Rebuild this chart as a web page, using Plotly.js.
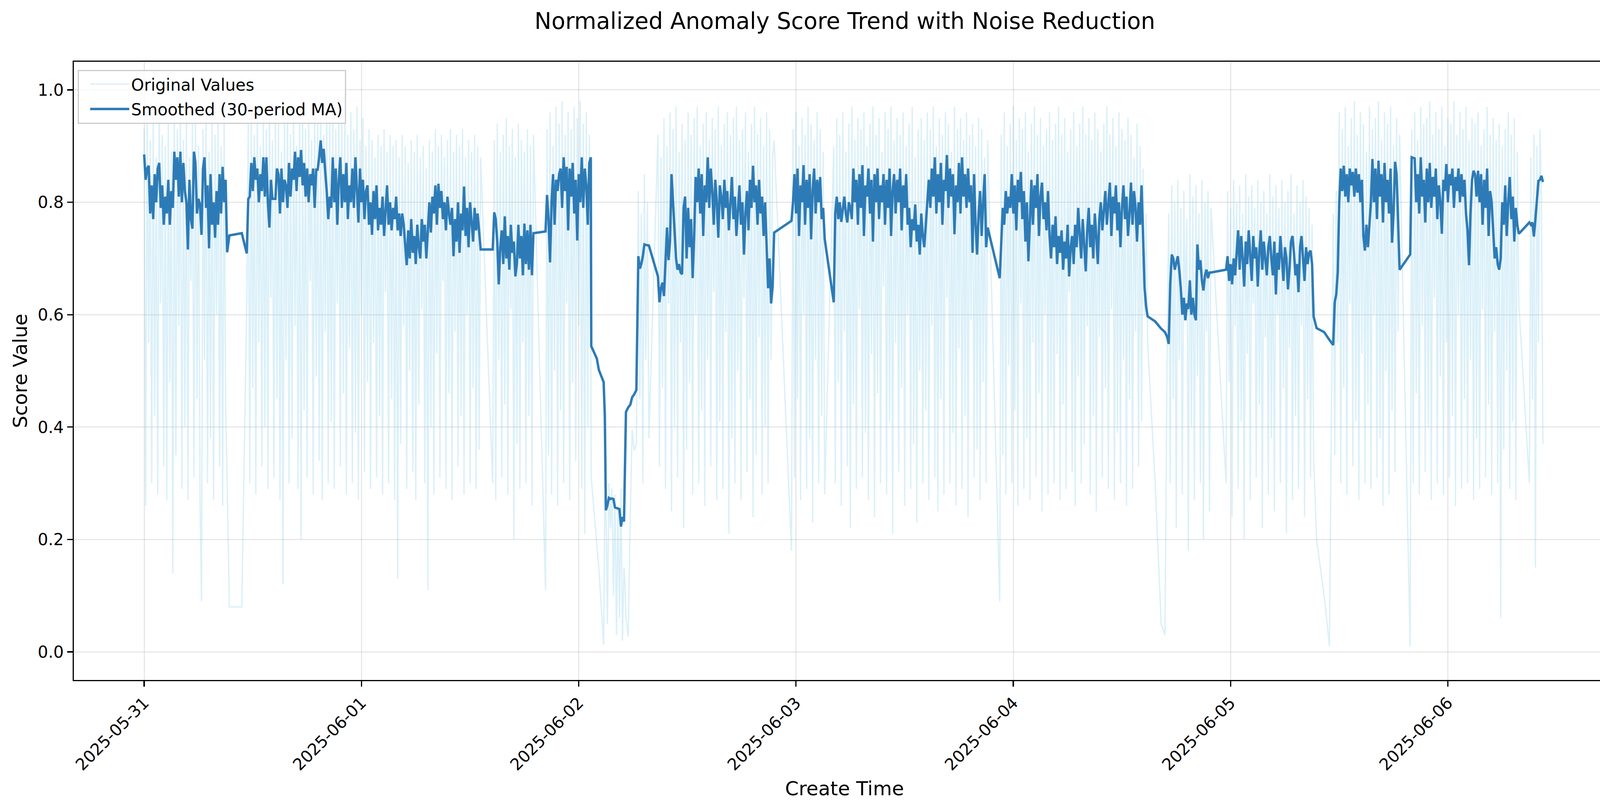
<!DOCTYPE html>
<html>
<head>
<meta charset="utf-8">
<script src="https://cdn.plot.ly/plotly-3.0.1.min.js"></script>
<style>
  html, body { margin: 0; padding: 0; background: #fff; }
  #chart { width: 4164px; height: 2065px; }
</style>
</head>
<body>
<div id="chart"></div>
<script>
// Sampling blocks: [start minute after 2025-05-31 00:00, number of 10-minute samples]
const segments = [
  [0, 56], [565, 1], [647, 1], [680, 156], [2310, 28], [2660, 31],
  [2963, 1], [3000, 1], [3013, 1], [3045, 1], [3053, 1], [3060, 13],
  [3187, 1], [3193, 1], [3208, 1], [3222, 1], [3234, 1], [3247, 1], [3262, 1],
  [3275, 8], [3405, 78], [4290, 23], [4570, 103], [5670, 99],
  [6700, 1], [6740, 1], [6765, 1], [6780, 30], [7170, 59],
  [7770, 1], [7820, 1], [7855, 1], [7880, 45], [8390, 73], [9180, 10]
];

// Raw score values
const originalValues = [
  // 05-31 early
  0.93, 0.26, 0.96, 0.55, 0.91, 0.30, 0.95, 0.42, 0.88, 0.28,
  0.97, 0.62, 0.92, 0.33, 0.90, 0.27, 0.94, 0.48, 0.89, 0.14,
  0.96, 0.35, 0.93, 0.58, 0.97, 0.29, 0.91, 0.40, 0.95, 0.27,
  0.88, 0.66, 0.94, 0.31, 0.96, 0.45, 0.90, 0.28, 0.09, 0.93,
  0.52, 0.95, 0.30, 0.89, 0.38, 0.96, 0.27, 0.92, 0.60, 0.94,
  0.33, 0.90, 0.26, 0.95, 0.44, 0.30,
  0.08, 0.08,
  // 05-31 late to 06-01 midday
  0.62, 0.94, 0.30, 0.96, 0.47, 0.92, 0.28, 0.97, 0.55, 0.90,
  0.33, 0.95, 0.40, 0.93, 0.29, 0.98, 0.63, 0.91, 0.31, 0.96,
  0.45, 0.94, 0.27, 0.89, 0.12, 0.95, 0.52, 0.97, 0.30, 0.92,
  0.38, 0.96, 0.58, 0.90, 0.29, 0.94, 0.20, 0.97, 0.43, 0.93,
  0.31, 0.95, 0.66, 0.91, 0.28, 0.98, 0.49, 0.94, 0.34, 0.96,
  0.27, 0.92, 0.57, 0.99, 0.30, 0.95, 0.41, 0.97, 0.29, 0.93,
  0.62, 0.98, 0.33, 0.94, 0.46, 0.99, 0.28, 0.92, 0.54, 0.96,
  0.30, 0.93, 0.39, 0.97, 0.27, 0.91, 0.60, 0.95, 0.32, 0.90,
  0.48, 0.93, 0.29, 0.91, 0.55, 0.88, 0.31, 0.92, 0.42, 0.90,
  0.28, 0.93, 0.64, 0.89, 0.30, 0.92, 0.45, 0.90, 0.27, 0.91,
  0.13, 0.88, 0.37, 0.92, 0.58, 0.90, 0.29, 0.87, 0.50, 0.91,
  0.32, 0.89, 0.27, 0.92, 0.44, 0.88, 0.61, 0.90, 0.30, 0.86,
  0.11, 0.91, 0.40, 0.89, 0.28, 0.93, 0.53, 0.90, 0.31, 0.92,
  0.66, 0.88, 0.29, 0.91, 0.46, 0.93, 0.27, 0.89, 0.57, 0.92,
  0.33, 0.90, 0.42, 0.93, 0.28, 0.88, 0.60, 0.91, 0.30, 0.89,
  0.47, 0.92, 0.29, 0.90, 0.36, 0.88,
  // 06-01 afternoon
  0.30, 0.91, 0.27, 0.94, 0.52, 0.89, 0.31, 0.92, 0.44, 0.95,
  0.28, 0.90, 0.61, 0.93, 0.20, 0.88, 0.37, 0.94, 0.29, 0.91,
  0.55, 0.89, 0.30, 0.93, 0.42, 0.90, 0.26, 0.92,
  // 06-01 evening
  0.11, 0.93, 0.35, 0.96, 0.28, 0.90, 0.50, 0.97, 0.26, 0.94,
  0.43, 0.98, 0.30, 0.92, 0.62, 0.96, 0.27, 0.93, 0.48, 0.97,
  0.34, 0.95, 0.58, 0.98, 0.29, 0.94, 0.21, 0.96, 0.40, 0.92, 0.55,
  // 06-02 dip
  0.31, 0.19, 0.15, 0.013, 0.28,
  0.27, 0.05, 0.30, 0.22, 0.29, 0.10, 0.28, 0.03, 0.26, 0.06, 0.29, 0.02, 0.15,
  0.12, 0.06, 0.027, 0.25, 0.395, 0.358, 0.37,
  0.82, 0.45, 0.78, 0.30, 0.85, 0.52, 0.80, 0.38,
  // 06-02 rest
  0.92, 0.33, 0.88, 0.47, 0.95, 0.29, 0.90, 0.62, 0.96, 0.25,
  0.93, 0.40, 0.97, 0.31, 0.89, 0.55, 0.94, 0.22, 0.91, 0.36,
  0.96, 0.48, 0.92, 0.28, 0.95, 0.60, 0.97, 0.30, 0.90, 0.43,
  0.94, 0.26, 0.96, 0.52, 0.91, 0.33, 0.95, 0.64, 0.93, 0.27,
  0.97, 0.41, 0.90, 0.29, 0.94, 0.57, 0.96, 0.21, 0.92, 0.38,
  0.95, 0.30, 0.97, 0.50, 0.91, 0.27, 0.93, 0.63, 0.96, 0.32,
  0.89, 0.45, 0.94, 0.24, 0.97, 0.35, 0.92, 0.56, 0.95, 0.28,
  0.90, 0.40, 0.96, 0.30, 0.93, 0.52, 0.88, 0.91,
  // 06-02 late to 06-03 early
  0.18, 0.93, 0.31, 0.96, 0.45, 0.90, 0.27, 0.95, 0.60, 0.92,
  0.29, 0.97, 0.38, 0.94, 0.23, 0.91, 0.52, 0.96, 0.30, 0.93,
  0.42, 0.89, 0.28,
  // 06-03
  0.90, 0.30, 0.95, 0.48, 0.92, 0.26, 0.96, 0.57, 0.89, 0.33,
  0.94, 0.22, 0.97, 0.44, 0.91, 0.29, 0.95, 0.61, 0.93, 0.31,
  0.96, 0.39, 0.90, 0.27, 0.94, 0.53, 0.97, 0.24, 0.92, 0.46,
  0.95, 0.30, 0.89, 0.65, 0.96, 0.28, 0.93, 0.41, 0.97, 0.21,
  0.91, 0.55, 0.95, 0.32, 0.92, 0.47, 0.96, 0.26, 0.90, 0.60,
  0.94, 0.29, 0.97, 0.37, 0.88, 0.23, 0.93, 0.50, 0.95, 0.30,
  0.91, 0.43, 0.96, 0.27, 0.93, 0.58, 0.97, 0.31, 0.90, 0.25,
  0.95, 0.45, 0.92, 0.28, 0.96, 0.63, 0.94, 0.30, 0.89, 0.39,
  0.97, 0.26, 0.93, 0.54, 0.95, 0.29, 0.91, 0.42, 0.96, 0.24,
  0.92, 0.59, 0.94, 0.31, 0.90, 0.36, 0.95, 0.27, 0.93, 0.48,
  0.88, 0.30, 0.91,
  // 06-03 late to 06-04 afternoon
  0.09, 0.92, 0.35, 0.96, 0.28, 0.90, 0.51, 0.94, 0.30, 0.97,
  0.43, 0.91, 0.26, 0.95, 0.62, 0.93, 0.29, 0.96, 0.38, 0.89,
  0.27, 0.94, 0.55, 0.97, 0.31, 0.92, 0.46, 0.95, 0.25, 0.90,
  0.60, 0.93, 0.28, 0.96, 0.40, 0.91, 0.30, 0.94, 0.53, 0.97,
  0.27, 0.92, 0.44, 0.95, 0.29, 0.89, 0.64, 0.93, 0.32, 0.96,
  0.26, 0.90, 0.49, 0.94, 0.30, 0.97, 0.37, 0.92, 0.58, 0.95,
  0.28, 0.91, 0.42, 0.96, 0.25, 0.93, 0.56, 0.89, 0.31, 0.94,
  0.47, 0.97, 0.29, 0.92, 0.61, 0.95, 0.27, 0.90, 0.39, 0.96,
  0.30, 0.93, 0.52, 0.91, 0.26, 0.95, 0.45, 0.92, 0.29, 0.88,
  0.57, 0.94, 0.33, 0.90, 0.41, 0.86, 0.60, 0.78, 0.55,
  0.30, 0.05, 0.03,
  // 06-04 evening to 06-05
  0.55, 0.78, 0.30, 0.83, 0.45, 0.80, 0.22, 0.84, 0.52, 0.79,
  0.28, 0.82, 0.60, 0.77, 0.18, 0.85, 0.40, 0.81, 0.27, 0.83,
  0.49, 0.78, 0.30, 0.84, 0.20, 0.80, 0.57, 0.82, 0.25, 0.79,
  0.30, 0.82, 0.48, 0.79, 0.24, 0.84, 0.58, 0.80, 0.29, 0.83,
  0.41, 0.78, 0.20, 0.85, 0.53, 0.81, 0.27, 0.83, 0.62, 0.79,
  0.31, 0.84, 0.44, 0.80, 0.22, 0.82, 0.56, 0.78, 0.28, 0.85,
  0.38, 0.81, 0.25, 0.83, 0.60, 0.79, 0.30, 0.84, 0.47, 0.80,
  0.21, 0.82, 0.54, 0.85, 0.27, 0.78, 0.42, 0.83, 0.29, 0.80,
  0.58, 0.84, 0.24, 0.81, 0.45, 0.79, 0.31, 0.76, 0.35,
  0.20, 0.10, 0.01,
  // 06-05 late to 06-06
  0.78, 0.35, 0.82, 0.55, 0.96, 0.30, 0.93, 0.47, 0.97, 0.28,
  0.90, 0.62, 0.95, 0.33, 0.98, 0.41, 0.92, 0.27, 0.96, 0.53,
  0.94, 0.30, 0.89, 0.44, 0.97, 0.29, 0.93, 0.60, 0.95, 0.31,
  0.98, 0.38, 0.91, 0.26, 0.96, 0.50, 0.94, 0.28, 0.97, 0.43,
  0.90, 0.32, 0.95, 0.57, 0.92,
  0.01, 0.93, 0.30, 0.96, 0.46, 0.91, 0.28, 0.97, 0.58, 0.94,
  0.32, 0.95, 0.40, 0.98, 0.27, 0.92, 0.63, 0.96, 0.30, 0.93,
  0.49, 0.97, 0.28, 0.90, 0.55, 0.95, 0.31, 0.94, 0.42, 0.98,
  0.26, 0.92, 0.60, 0.96, 0.29, 0.93, 0.45, 0.97, 0.30, 0.91,
  0.52, 0.95, 0.27, 0.94, 0.38, 0.96, 0.29, 0.90, 0.61, 0.93,
  0.31, 0.97, 0.44, 0.92, 0.28, 0.95, 0.57, 0.91, 0.30, 0.94,
  0.06, 0.90, 0.36, 0.93, 0.50, 0.96, 0.29, 0.92, 0.41, 0.95,
  0.27, 0.89, 0.62,
  0.30, 0.88, 0.45, 0.92, 0.15, 0.90, 0.55, 0.93, 0.80, 0.37
];

// 30-period moving average
const smoothedValues = [
  0.885, 0.84, 0.86, 0.865, 0.78, 0.83, 0.77, 0.85, 0.80, 0.86,
  0.87, 0.79, 0.83, 0.76, 0.81, 0.78, 0.84, 0.76, 0.82, 0.79,
  0.89, 0.84, 0.88, 0.81, 0.89, 0.80, 0.87, 0.82,
  0.80, 0.716, 0.84, 0.77, 0.753, 0.89, 0.87, 0.78,
  0.806, 0.796,
  0.742, 0.86, 0.88, 0.79, 0.83, 0.718, 0.85, 0.76, 0.80,
  0.737, 0.82, 0.76, 0.85, 0.78, 0.863, 0.80, 0.84, 0.711,
  0.741, 0.745,
  0.709, 0.806, 0.81, 0.87, 0.82, 0.88, 0.84, 0.86, 0.80, 0.85, 0.82, 0.88, 0.81,
  0.88, 0.80, 0.755, 0.84, 0.806, 0.806, 0.806,
  0.86, 0.85, 0.78, 0.86, 0.80, 0.84, 0.83, 0.79,
  0.87, 0.81, 0.86, 0.84, 0.89, 0.82, 0.88, 0.845, 0.893, 0.83,
  0.87, 0.81, 0.86, 0.80, 0.85, 0.83, 0.86,
  0.79, 0.858, 0.858,
  0.88, 0.91, 0.87, 0.895, 0.855,
  0.82, 0.77, 0.81, 0.79,
  0.88, 0.80, 0.86, 0.76, 0.84, 0.88, 0.79, 0.85, 0.80, 0.87, 0.77, 0.83, 0.80,
  0.86, 0.79, 0.88, 0.81, 0.764, 0.86, 0.80, 0.84, 0.77, 0.82,
  0.83, 0.76, 0.80, 0.742, 0.82, 0.77, 0.83, 0.75, 0.79, 0.76, 0.81, 0.74,
  0.79, 0.83, 0.76, 0.80, 0.75, 0.79, 0.77, 0.81, 0.75, 0.78, 0.74, 0.78, 0.76,
  0.72, 0.688, 0.75, 0.70, 0.77, 0.71, 0.74, 0.69, 0.76, 0.72,
  0.70, 0.77, 0.73, 0.76, 0.70, 0.75,
  0.80, 0.746, 0.81, 0.78, 0.83, 0.76, 0.833, 0.79, 0.82, 0.77,
  0.80, 0.75, 0.81, 0.78, 0.76,
  0.79, 0.704, 0.77, 0.73, 0.80, 0.71, 0.78, 0.75, 0.828, 0.74,
  0.79, 0.72, 0.80, 0.76, 0.73, 0.79, 0.75, 0.78, 0.74, 0.716,
  0.716, 0.782, 0.77, 0.73, 0.654, 0.72, 0.75, 0.69, 0.775, 0.70,
  0.74, 0.68, 0.76, 0.71, 0.73, 0.668, 0.69,
  0.76, 0.70, 0.74, 0.67, 0.762, 0.69, 0.75, 0.68, 0.76, 0.67, 0.745,
  0.748, 0.813, 0.77, 0.693, 0.80, 0.85, 0.76, 0.84, 0.82, 0.85,
  0.86, 0.79, 0.88, 0.82, 0.863, 0.75, 0.86, 0.81, 0.87, 0.78,
  0.84, 0.732, 0.85, 0.80, 0.88, 0.79, 0.86, 0.83, 0.76, 0.87, 0.88,
  0.544, 0.522, 0.502, 0.48, 0.42,
  0.252, 0.261, 0.274, 0.272, 0.273, 0.272, 0.257, 0.256, 0.254, 0.254, 0.223, 0.24, 0.232,
  0.33, 0.427, 0.435, 0.44, 0.453, 0.458, 0.466,
  0.704, 0.682, 0.69, 0.704, 0.725, 0.724, 0.724, 0.723,
  0.668, 0.622, 0.647, 0.657, 0.633, 0.697, 0.755, 0.697, 0.73, 0.85,
  0.80, 0.74, 0.70, 0.68, 0.69, 0.675, 0.672, 0.79, 0.81, 0.70,
  0.79, 0.72, 0.77, 0.665, 0.74, 0.845,
  0.80, 0.86, 0.78, 0.85, 0.74, 0.83, 0.80, 0.88, 0.79, 0.86,
  0.82, 0.76, 0.84, 0.80, 0.737, 0.83, 0.81,
  0.77, 0.84, 0.79, 0.82, 0.75, 0.80, 0.845, 0.77, 0.81, 0.74,
  0.79, 0.83, 0.76, 0.80, 0.707, 0.78, 0.82, 0.75, 0.84, 0.79,
  0.865, 0.80,
  0.83, 0.76, 0.84, 0.78, 0.81, 0.74, 0.80, 0.72, 0.647, 0.70, 0.62, 0.65, 0.746,
  0.767, 0.80, 0.85, 0.78, 0.86, 0.74, 0.83, 0.80, 0.866, 0.76,
  0.84, 0.79, 0.85, 0.734, 0.82, 0.86, 0.78, 0.84, 0.80, 0.845,
  0.77, 0.79, 0.735,
  0.622,
  0.78, 0.81, 0.77, 0.80, 0.765, 0.79, 0.81, 0.78, 0.764, 0.80, 0.79, 0.77,
  0.86, 0.80, 0.84, 0.76, 0.85, 0.79, 0.866, 0.74, 0.83, 0.81,
  0.86, 0.78, 0.84, 0.73, 0.85, 0.80, 0.86, 0.77, 0.83, 0.80,
  0.85, 0.76, 0.84, 0.79, 0.86, 0.74, 0.82, 0.85, 0.78, 0.84,
  0.80, 0.86, 0.75, 0.83, 0.79, 0.85,
  0.76, 0.79, 0.72, 0.77, 0.75, 0.796, 0.73, 0.76, 0.707, 0.78, 0.74, 0.72, 0.77,
  0.80, 0.84, 0.79, 0.86, 0.81, 0.88, 0.78, 0.85, 0.80, 0.87,
  0.76, 0.84, 0.82, 0.884, 0.79, 0.86, 0.81, 0.85, 0.743, 0.83,
  0.80, 0.87, 0.78, 0.88, 0.81, 0.85, 0.79, 0.86, 0.80,
  0.83, 0.71, 0.85, 0.76, 0.707, 0.78, 0.82, 0.74, 0.80, 0.85, 0.72, 0.755,
  0.665,
  0.74, 0.79, 0.76, 0.82, 0.78, 0.81, 0.79,
  0.85, 0.78, 0.83, 0.75, 0.84, 0.80, 0.854, 0.77, 0.82, 0.73,
  0.80, 0.695, 0.78, 0.84, 0.76, 0.83, 0.79, 0.85, 0.74, 0.81,
  0.835, 0.77, 0.80, 0.75, 0.82,
  0.74, 0.70, 0.76, 0.72, 0.775, 0.69, 0.74, 0.71, 0.75, 0.68,
  0.73, 0.70, 0.76, 0.668, 0.72, 0.74, 0.69,
  0.76, 0.72, 0.79, 0.74, 0.70, 0.77, 0.73, 0.677, 0.75, 0.79,
  0.72, 0.76, 0.70, 0.78, 0.74, 0.69, 0.77, 0.80, 0.75, 0.78,
  0.82, 0.76, 0.80, 0.835, 0.74, 0.81, 0.78, 0.83, 0.75, 0.80,
  0.72, 0.79, 0.83, 0.77, 0.81, 0.74, 0.78, 0.835, 0.76, 0.82,
  0.79, 0.73, 0.80, 0.76, 0.83, 0.75,
  0.647, 0.615, 0.597,
  0.588, 0.575, 0.569,
  0.56, 0.548, 0.654, 0.707, 0.70, 0.68, 0.69, 0.704, 0.679,
  0.647, 0.60, 0.63, 0.59, 0.62, 0.61, 0.661, 0.60, 0.63, 0.60, 0.59,
  0.725, 0.68, 0.697, 0.66, 0.643, 0.67, 0.68, 0.665, 0.675, 0.675,
  0.68, 0.704, 0.66, 0.69, 0.654, 0.70, 0.67,
  0.72, 0.75, 0.68, 0.74, 0.70, 0.65, 0.73, 0.69, 0.75, 0.71,
  0.66, 0.74, 0.70, 0.72, 0.65, 0.71, 0.75, 0.68, 0.73, 0.70,
  0.67, 0.72,
  0.74, 0.70, 0.67, 0.73, 0.636, 0.71, 0.68, 0.74, 0.69, 0.66,
  0.72, 0.70, 0.645, 0.68, 0.73, 0.74, 0.71, 0.67, 0.69, 0.64,
  0.72, 0.74, 0.70, 0.66, 0.72, 0.69, 0.71, 0.714, 0.69,
  0.597,
  0.576, 0.569, 0.555,
  0.546, 0.622, 0.636, 0.675,
  0.80, 0.86, 0.82, 0.865, 0.81, 0.85, 0.80, 0.86, 0.83, 0.854,
  0.81, 0.86, 0.817, 0.85, 0.80, 0.84,
  0.74, 0.714, 0.76, 0.72, 0.755, 0.80,
  0.877, 0.80, 0.86, 0.77, 0.874, 0.81, 0.85, 0.764, 0.87, 0.80, 0.84, 0.78, 0.86,
  0.728, 0.78, 0.872, 0.85, 0.77, 0.68,
  0.707, 0.88, 0.879, 0.878,
  0.80, 0.85, 0.78, 0.88, 0.81, 0.84, 0.764, 0.86, 0.80, 0.87,
  0.79, 0.845, 0.81, 0.86, 0.77, 0.83, 0.80, 0.744,
  0.84, 0.82, 0.868, 0.80, 0.85, 0.83, 0.86, 0.79, 0.845, 0.82,
  0.86, 0.80, 0.85, 0.81, 0.84, 0.78,
  0.75, 0.688, 0.78,
  0.84, 0.856, 0.85, 0.81, 0.856,
  0.80, 0.85, 0.76, 0.84, 0.79, 0.86, 0.74, 0.82, 0.80, 0.75,
  0.70, 0.72, 0.69, 0.68, 0.70,
  0.80, 0.76, 0.83, 0.74, 0.80, 0.845, 0.77, 0.81, 0.73, 0.79, 0.76, 0.744,
  0.764, 0.76, 0.764, 0.739, 0.77, 0.80, 0.838, 0.84, 0.847, 0.836
];

const startTime = Date.UTC(2025, 4, 31);

// Build timestamps from the sampling blocks
function buildTimes() {
  const times = [];
  segments.forEach(([start, count]) => {
    for (let i = 0; i < count; i++) {
      const ms = startTime + (start + i * 10) * 60000;
      times.push(new Date(ms).toISOString().replace('T', ' ').slice(0, 19));
    }
  });
  return times;
}

const times = buildTimes();
const font = 'DejaVu Sans, sans-serif';

const original = {
  x: times,
  y: originalValues,
  name: 'Original Values',
  legendgroup: 'a',
  type: 'scatter',
  mode: 'lines',
  line: { color: 'rgba(135,206,235,0.3)', width: 3.5, simplify: false },
};

const smoothed = {
  x: times,
  y: smoothedValues,
  name: 'Smoothed (30-period MA)',
  legendgroup: 'b',
  type: 'scatter',
  mode: 'lines',
  line: { color: '#2d7bb6', width: 6.2 },
};

const axisCommon = {
  showline: true,
  mirror: true,
  linecolor: '#000',
  linewidth: 3.3,
  ticks: 'outside',
  ticklen: 14,
  tickwidth: 3.3,
  tickcolor: '#000',
  showgrid: true,
  gridcolor: 'rgba(176,176,176,0.3)',
  gridwidth: 3,
  zeroline: false,
  tickfont: { family: font, size: 42, color: '#000' },
};

const layout = {
  width: 4164,
  height: 2065,
  paper_bgcolor: '#fff',
  plot_bgcolor: '#fff',
  margin: { l: 189, r: 29, t: 158, b: 325 },
  showlegend: true,
  title: {
    text: 'Normalized Anomaly Score Trend with Noise Reduction',
    font: { family: font, size: 58, color: '#000' },
    x: 0.5194,
    xanchor: 'center',
    yref: 'container',
    y: 0.974,
    yanchor: 'middle',
  },
  xaxis: Object.assign({}, axisCommon, {
    type: 'date',
    range: ['2025-05-30 16:14', '2025-06-06 18:29'],
    tick0: '2025-05-31',
    dtick: 86400000,
    tickformat: '%Y-%m-%d',
    tickangle: -45,
    automargin: false,
    title: { text: 'Create Time', font: { family: font, size: 50, color: '#000' }, standoff: 20 },
  }),
  yaxis: Object.assign({}, axisCommon, {
    range: [-0.05, 1.05],
    tick0: 0,
    dtick: 0.2,
    tickformat: '.1f',
    automargin: false,
    title: { text: 'Score Value', font: { family: font, size: 50, color: '#000' }, standoff: 12 },
  }),
  legend: {
    x: 0.0025,
    y: 0.987,
    xanchor: 'left',
    yanchor: 'top',
    bgcolor: 'rgba(255,255,255,0.8)',
    bordercolor: '#cccccc',
    borderwidth: 3,
    font: { family: font, size: 42, color: '#000' },
    indentation: 24,
    itemwidth: 100,
    traceorder: 'grouped',
    tracegroupgap: 6,
  },
};

Plotly.newPlot('chart', [original, smoothed], layout, { staticPlot: true });
</script>
</body>
</html>
